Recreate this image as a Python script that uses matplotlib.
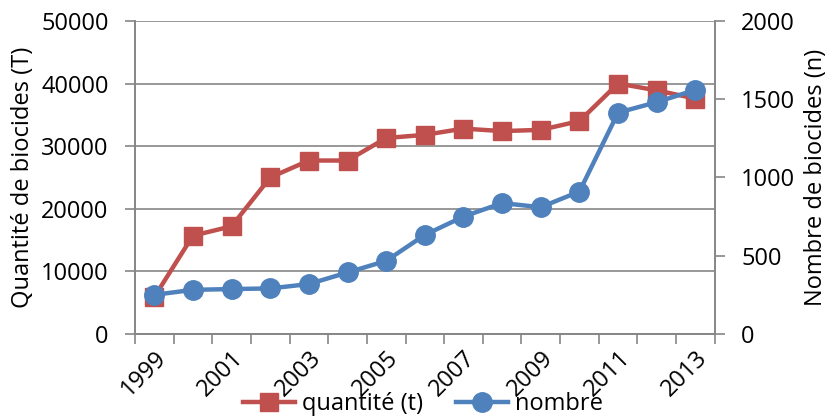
import numpy as np
import matplotlib.pyplot as plt

plt.rcParams['font.family'] = ['Open Sans', 'DejaVu Sans']

years = list(range(1999, 2014))
quantite = [5900, 15700, 17200, 25000, 27700, 27700, 31300, 31800,
            32800, 32400, 32600, 34000, 40000, 38900, 37600]
nombre = [250, 282, 287, 291, 319, 393, 467, 633,
          750, 836, 810, 910, 1414, 1481, 1559]

red = '#C0504D'
blue = '#4F81BD'
grey = '#868686'
fs = 17

fig = plt.figure(figsize=(8.33, 4.18), dpi=100)
ax = fig.add_axes([0.162, 0.201, 0.696, 0.749])
ax2 = ax.twinx()

x = np.arange(len(years))
l1, = ax.plot(x, quantite, color=red, lw=3.2, marker='s', ms=13.5,
              label='quantité (t)', zorder=3)
l2, = ax2.plot(x, nombre, color=blue, lw=3.2, marker='o', ms=14,
               label='nombre', zorder=3)

ax.set_xlim(-0.5, len(years) - 0.5)
ax.set_ylim(0, 50000)
ax2.set_ylim(0, 2000)
ax.set_yticks(np.arange(0, 50001, 10000))
ax2.set_yticks(np.arange(0, 2001, 500))

# tick marks at category boundaries, labels at every other category centre
ax.set_xticks(np.arange(-0.5, len(years), 1.0))
ax.set_xticklabels([])
ax.set_xticks(x[::2], minor=True)
ax.set_xticklabels([str(y) for y in years[::2]], minor=True, rotation=45,
                   ha='right', va='top', rotation_mode='anchor')
ax.tick_params(axis='x', which='minor', length=0, pad=9, labelsize=fs)
ax.tick_params(axis='x', which='major', length=7, width=1.2, color=grey,
               direction='out')
ax.tick_params(axis='y', length=7, width=1.2, color=grey, pad=12, labelsize=fs)
ax2.tick_params(axis='y', length=7, width=1.2, color=grey, pad=12, labelsize=fs)

ax.grid(axis='y', color=grey, lw=1.2)
ax.set_axisbelow(True)
for a in (ax, ax2):
    a.spines['top'].set_visible(False)
    for s in ('left', 'right', 'bottom'):
        a.spines[s].set_color(grey)
        a.spines[s].set_linewidth(1.2)

ax.set_ylabel('Quantité de biocides (T)', fontsize=fs, labelpad=4)
ax2.set_ylabel('Nombre de biocides (n)', fontsize=fs, labelpad=6)

fig.legend(handles=[l1, l2], loc='center', bbox_to_anchor=(0.508, 0.033),
           ncol=2, frameon=False, fontsize=fs, handlelength=2.2,
           columnspacing=1.4, handletextpad=0.3)

fig.savefig('out.png', dpi=100)
